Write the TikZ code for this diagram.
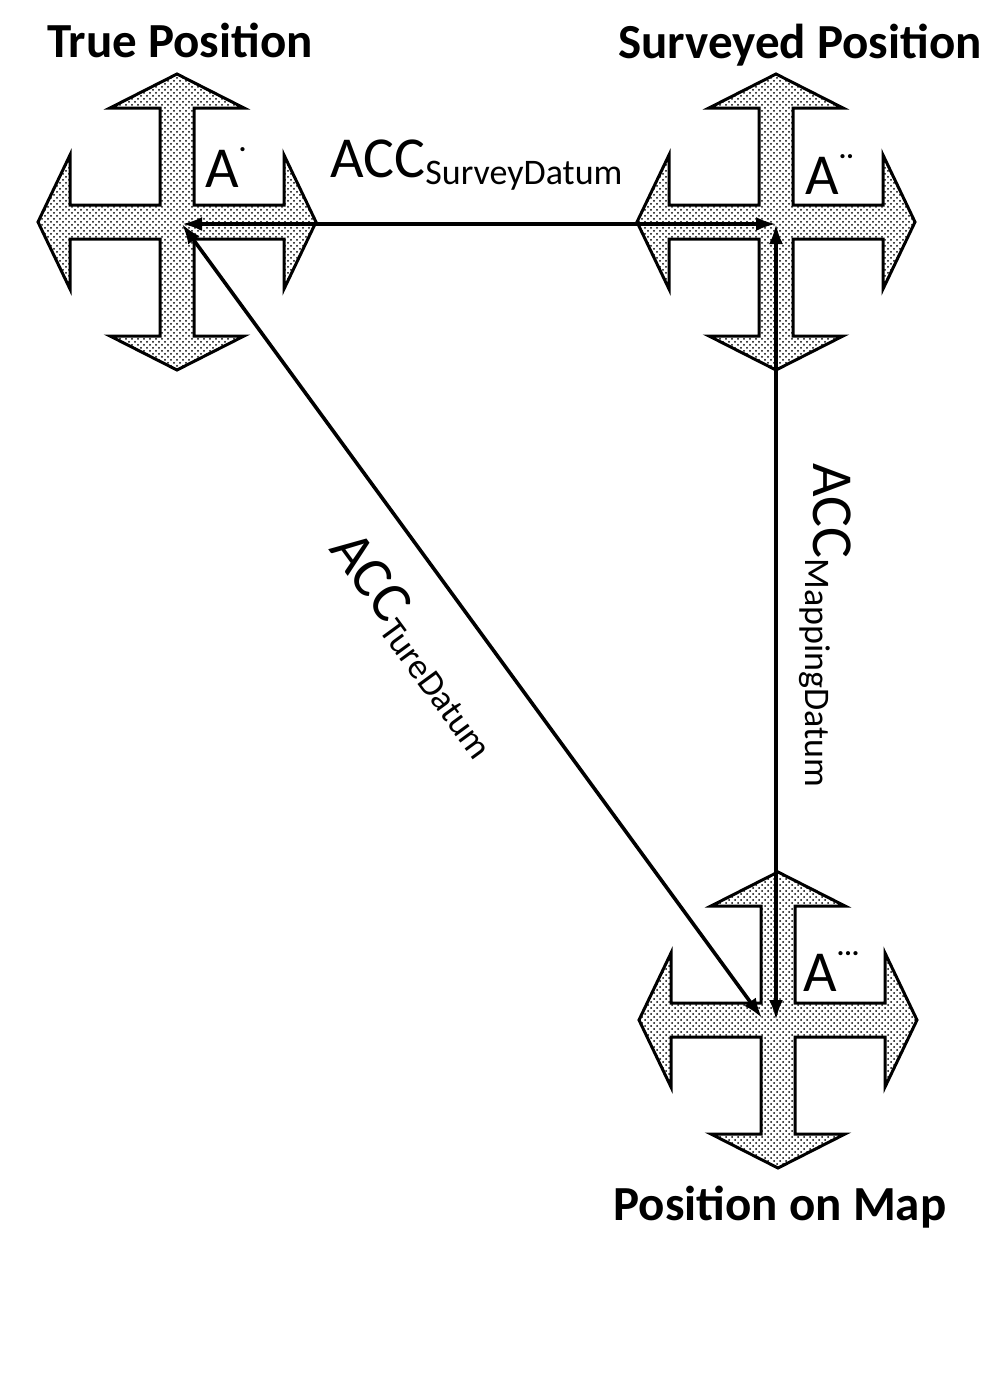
\documentclass[tikz,border=0pt]{standalone}
\usepackage{fontspec}
\setmainfont{Carlito}
\usetikzlibrary{patterns,arrows.meta}
\newcommand{\mydots}[1]{\raisebox{0.62em}{\fontsize{14}{14}\selectfont\bfseries #1}}
\begin{document}
\begin{tikzpicture}[x=0.5pt,y=-0.5pt,
  cross/.style={draw=black,line width=1.5pt,pattern=crosshatch dots,pattern color=black},
  conn/.style={line width=1.8pt,{Latex[length=10pt,width=7pt]}-{Latex[length=10pt,width=7pt]}},
  title/.style={font=\fontsize{24.5}{28}\selectfont\bfseries},
  lab/.style={font=\fontsize{29}{32}\selectfont,inner sep=0pt}]
\useasboundingbox (0,0) rectangle (1006,1377);
\fill[white] (0,0) rectangle (1006,1377);
\newcommand{\crossshape}[2]{%
 \path[cross] (#1,#2) ++(0,-148) -- ++(67,34) -- ++(-50,0) -- ++(0,97) -- ++(90,0) -- ++(0,-50) -- ++(32,67) -- ++(-32,67) -- ++(0,-50) -- ++(-90,0) -- ++(0,97) -- ++(50,0) -- ++(-67,34) -- ++(-67,-34) -- ++(50,0) -- ++(0,-97) -- ++(-90,0) -- ++(0,50) -- ++(-32,-67) -- ++(32,-67) -- ++(0,50) -- ++(90,0) -- ++(0,-97) -- ++(-50,0) -- cycle;}
\begin{scope}\crossshape{177}{222}\end{scope}
\begin{scope}\crossshape{776}{222}\end{scope}
\begin{scope}\crossshape{778}{1020}\end{scope}
\coordinate (a1) at (182,224);
\coordinate (a2) at (776,224);
\coordinate (a3) at (776,1020);
\coordinate (a3d) at (762,1018);
\node[title] (t1) at (180,40) {True Position};
\node[title] (t2) at (800,45) {Surveyed Position};
\node[title] (t3) at (780,1207) {Position on Map};
\node[lab,anchor=south west] (l1) at (205,188) {A\mydots{.}};
\node[lab,anchor=south west] (l2) at (805,195) {A\mydots{..}};
\node[lab,anchor=south west] (l3) at (803,992) {A\mydots{...}};
\draw[conn] (a1) -- (a2);
\draw[conn] (a2) -- (a3);
\draw[conn] (a1) -- (a3d);
\node[lab,anchor=west] (s1) at (330,165) {ACC\textsubscript{\fontsize{18}{20}\selectfont SurveyDatum}};
\node[lab,anchor=west,rotate=-90] (s2) at (825,463) {ACC\textsubscript{\fontsize{18}{20}\selectfont MappingDatum}};
\node[lab,anchor=west,rotate=-53.8] (s3) at (340,540) {ACC\textsubscript{\fontsize{18}{20}\selectfont TureDatum}};
\end{tikzpicture}
\end{document}
